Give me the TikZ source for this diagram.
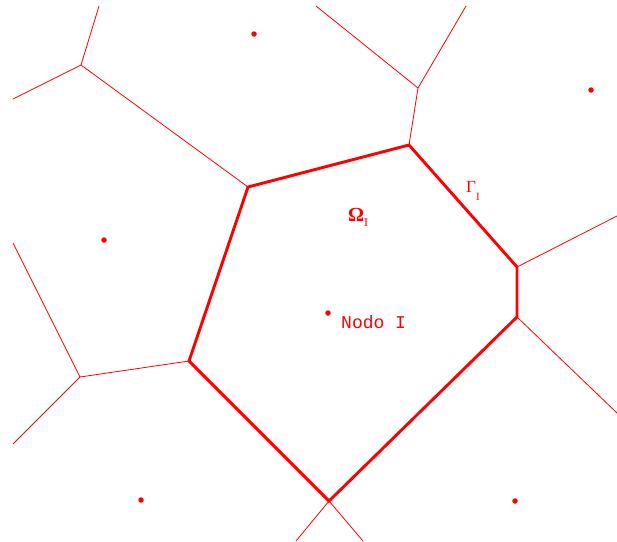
\documentclass[tikz,border=0pt]{standalone}
\usepackage{fontspec}
\newfontfamily\serifgr{Liberation Serif}
\newfontfamily\monof{Liberation Mono}
\begin{document}
\begin{tikzpicture}[x=1pt,y=-1pt,
  thin edge/.style={draw=red,line width=0.8pt},
  thick edge/.style={draw=red,line width=2.9pt,line join=miter},
  site/.style={circle,fill=red,inner sep=0pt,minimum size=5.5pt},
  lbl/.style={text=red,inner sep=0pt}]
\useasboundingbox (0,0) rectangle (617,541);
% cell vertices
\coordinate (A) at (248,187);
\coordinate (B) at (409,145);
\coordinate (C) at (517,267);
\coordinate (D) at (517,317);
\coordinate (E) at (329,501);
\coordinate (F) at (189,361);
% outer vertices
\coordinate (P) at (81,65);
\coordinate (Q) at (418,88);
\coordinate (R) at (80,377);
% free ends
\coordinate (p1) at (99,6);
\coordinate (p2) at (13,99);
\coordinate (q1) at (316,6);
\coordinate (q2) at (466,6);
\coordinate (c1) at (617,216);
\coordinate (d1) at (617,413);
\coordinate (r1) at (13,243);
\coordinate (r2) at (13,444);
\coordinate (e1) at (296,541);
\coordinate (e2) at (363,541);
% thin edges
\draw[thin edge] (A) -- (P) (P) -- (p1) (P) -- (p2);
\draw[thin edge] (B) -- (Q) (Q) -- (q1) (Q) -- (q2);
\draw[thin edge] (C) -- (c1);
\draw[thin edge] (D) -- (d1);
\draw[thin edge] (F) -- (R) (R) -- (r1) (R) -- (r2);
\draw[thin edge] (E) -- (e1) (E) -- (e2);
% thick cell boundary
\draw[thick edge] (A) -- (B) -- (C) -- (D) -- (E) -- (F) -- cycle;
% sites
\node[site] (s1) at (254,34) {};
\node[site] (s2) at (591,90) {};
\node[site] (s3) at (104,240) {};
\node[site] (s0) at (328,313) {};
\node[site] (s4) at (141,500) {};
\node[site] (s5) at (515,501) {};
% labels
\node[lbl,anchor=base west] (om) at (348,221) {\fontsize{20}{20}\serifgr\bfseries Ω\raisebox{-5pt}{\mdseries\fontsize{12}{12}\selectfont I}};
\node[lbl,anchor=base west] (ga) at (466,192) {\fontsize{17}{17}\serifgr Γ\raisebox{-8pt}{\fontsize{11}{11}\selectfont I}};
\node[lbl,anchor=base west] (nd) at (341,328) {\fontsize{18}{18}\monof Nodo I};
\end{tikzpicture}
\end{document}
